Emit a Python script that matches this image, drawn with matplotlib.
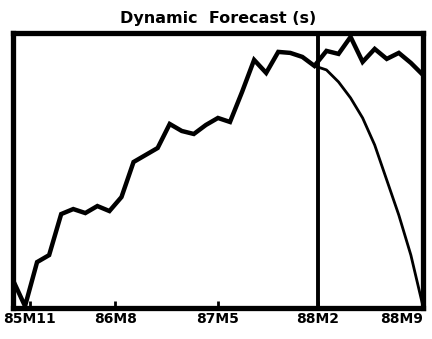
import numpy as np
import matplotlib
matplotlib.use('Agg')
import matplotlib.pyplot as plt

# values (arbitrary units, 0 = bottom of the frame)
actual = [28, 2, 46, 53, 94, 99, 95, 102, 97, 111, 146, 153, 160, 184, 177,
          174, 183, 190, 186, 216, 248, 235, 256, 255, 251, 242,
          257, 254, 271, 246, 259, 249, 255, 245, 233]
forecast = [242, 238, 226, 210, 190, 163, 128, 93, 53, 2]
forecast_start = 25

tick_pos = [1.4, 8.5, 17.0, 25.3, 34]
tick_labels = ['85M11', '86M8', '87M5', '88M2', '88M9']
split_at = 25.3

x_actual = np.arange(len(actual))
x_forecast = np.arange(forecast_start, forecast_start + len(forecast))

fig = plt.figure(figsize=(4.32, 3.39), dpi=100)
ax = fig.add_axes([0.030, 0.091, 0.949, 0.812])

ax.plot(x_actual, actual, color='black', lw=3.2, solid_joinstyle='miter')
ax.plot(x_forecast, forecast, color='black', lw=2.0)
ax.axvline(split_at, color='black', lw=2.8)

ax.set_xlim(0, 34)
ax.set_ylim(0, 275)
ax.set_yticks([])
ax.set_xticks(tick_pos)
ax.set_xticklabels(tick_labels, fontsize=10, fontweight='bold')
ax.get_xticklabels()[-1].set_horizontalalignment('right')
ax.tick_params(axis='x', direction='in', length=5, width=2, pad=3)
for s in ax.spines.values():
    s.set_linewidth(3.8)

ax.set_title('Dynamic  Forecast (s)', fontsize=11.5, fontweight='bold', pad=7)

fig.savefig('out.png', dpi=100)
